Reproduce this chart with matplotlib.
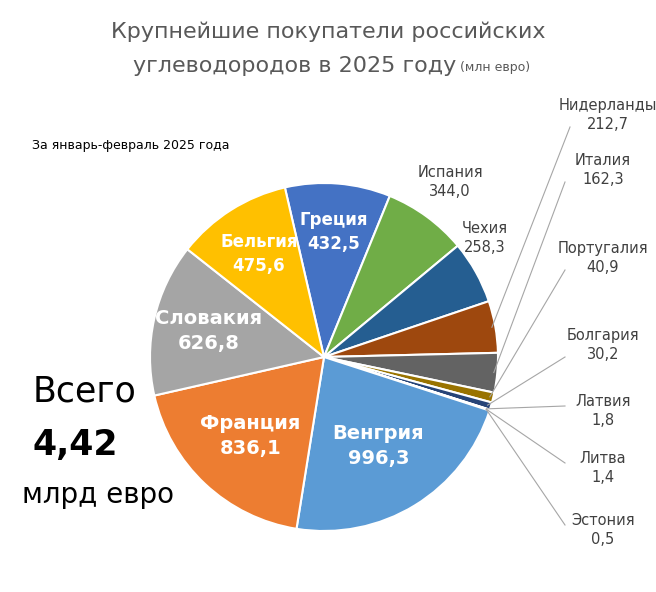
import numpy as np
import matplotlib
matplotlib.use("Agg")
import matplotlib.pyplot as plt

countries = ["Греция", "Испания", "Чехия", "Нидерланды", "Италия", "Португалия",
             "Болгария", "Латвия", "Литва", "Эстония", "Венгрия", "Франция",
             "Словакия", "Бельгия"]
values = [432.5, 344.0, 258.3, 212.7, 162.3, 40.9, 30.2, 1.8, 1.4, 0.5,
          996.3, 836.1, 626.8, 475.6]
labels = ["432,5", "344,0", "258,3", "212,7", "162,3", "40,9", "30,2", "1,8",
          "1,4", "0,5", "996,3", "836,1", "626,8", "475,6"]
colors = ["#4472C4", "#70AD47", "#255E91", "#9E480E", "#636363", "#997300",
          "#264478", "#43682B", "#698ED0", "#F1975A", "#5B9BD5", "#ED7D31",
          "#A5A5A5", "#FFC000"]

W, H = 656, 592
fig = plt.figure(figsize=(W/100, H/100), dpi=100)
ax = fig.add_axes([0, 0, 1, 1])
ax.set_xlim(0, W); ax.set_ylim(0, H); ax.axis("off")

def Y(y): return H - y

cx, cy, R = 324, Y(357), 174
start = 103
wedges, _ = ax.pie(values, colors=colors, startangle=start, counterclock=False,
                   center=(cx, cy), radius=R,
                   wedgeprops=dict(edgecolor="white", linewidth=1.5))
ax.set_xlim(0, W); ax.set_ylim(0, H); ax.set_aspect("equal")

total = sum(values)
cum = 0
mids = []
for v in values:
    mid = start - (cum + v/2) / total * 360
    mids.append(np.deg2rad(mid))
    cum += v

inside = {0: 0.72, 10: 0.6, 11: 0.62, 12: 0.68, 13: 0.7}
for i, r in inside.items():
    x = cx + R*r*np.cos(mids[i]); y = cy + R*r*np.sin(mids[i])
    fs = 14 if i in (10, 11, 12) else 12
    ax.text(x, y, countries[i] + "\n" + labels[i], ha="center", va="center",
            color="white", fontsize=fs, fontweight="bold", linespacing=1.4)

txtc = "#404040"
ax.text(450, Y(182), "Испания\n344,0", ha="center", va="center", fontsize=10.5,
        color=txtc, linespacing=1.4)
ax.text(485, Y(238), "Чехия\n258,3", ha="center", va="center", fontsize=10.5,
        color=txtc, linespacing=1.4)

outer = {3: (608, 115), 4: (603, 170), 5: (603, 258), 6: (603, 345),
         7: (603, 411), 8: (603, 468), 9: (603, 530)}
for i, (tx, ty) in outer.items():
    ax.text(tx, Y(ty), countries[i] + "\n" + labels[i], ha="center", va="center",
            fontsize=10.5, color=txtc, linespacing=1.4)
    ex = cx + R*0.98*np.cos(mids[i]); ey = cy + R*0.98*np.sin(mids[i])
    lx = tx - 38; ly = Y(ty + 12) if ty < 400 else Y(ty - 5)
    ax.plot([ex, lx], [ey, ly], color="#A6A6A6", lw=0.8)

ax.text(328, Y(32), "Крупнейшие покупатели российских", ha="center", va="center",
        fontsize=16, color="#595959")
ax.text(295, Y(66), "углеводородов в 2025 году", ha="center", va="center",
        fontsize=16, color="#595959")
ax.text(460, Y(68), "(млн евро)", ha="left", va="center", fontsize=9, color="#595959")
ax.text(32, Y(146), "За январь-февраль 2025 года", ha="left", va="center",
        fontsize=9, color="black")
ax.text(85, Y(392), "Всего", ha="center", va="center", fontsize=25)
ax.text(75, Y(445), "4,42", ha="center", va="center", fontsize=25, fontweight="bold")
ax.text(98, Y(495), "млрд евро", ha="center", va="center", fontsize=20)

fig.savefig("out.png", dpi=100, facecolor="white")
